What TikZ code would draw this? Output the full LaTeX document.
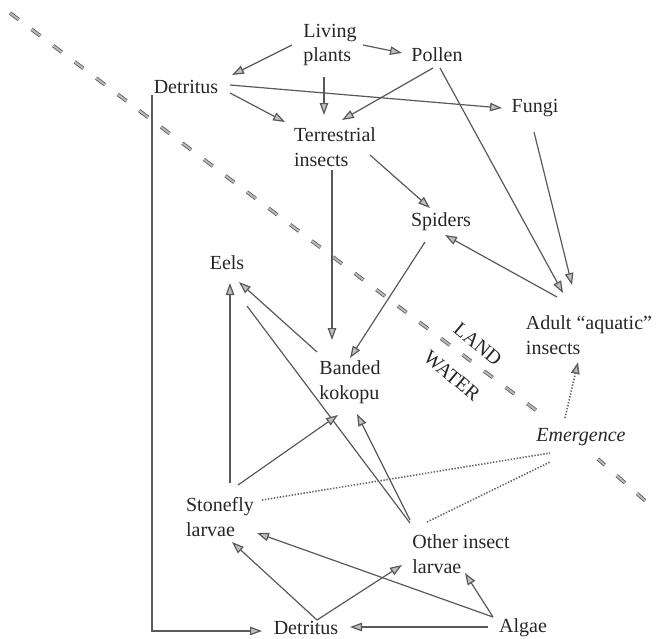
\documentclass[tikz,border=0pt]{standalone}
\usepackage{fontspec}
\setmainfont{Liberation Serif}
\newfontfamily\labelfont{Liberation Serif}
\usetikzlibrary{arrows.meta}
\begin{document}
\begin{tikzpicture}[x=1pt,y=-1pt,
  lbl/.style={inner sep=0pt, align=left, font=\labelfont\fontsize{20}{24.5}\selectfont, text=black!85},
  flow/.style={draw=black!65, line width=1.2pt, line join=miter,
    -{Triangle[length=12pt,width=8.5pt,fill=gray!50]}},
  link/.style={draw=black!65, line width=1.2pt},
  emerge/.style={draw=black!60, line width=1.6pt, dash pattern=on 1.4pt off 1.6pt},
  shore/.style={draw=black!65, line width=0.8pt, double=gray!55, double distance=2pt,
    dash pattern=on 11pt off 16pt}
]
\useasboundingbox (0,0) rectangle (659,638);

% land / water boundary
\draw[shore] (10,13) -- (541,414);
\draw[shore, dash phase=2pt] (598,459) -- (650,505);

% food-web compartments
\node[lbl] (lp)   at (330,45)  {Living\\plants};
\node[lbl] (pol)  at (437,55)  {Pollen};
\node[lbl] (detT) at (186,87)  {Detritus};
\node[lbl] (fun)  at (535,108) {Fungi};
\node[lbl] (ti)   at (335,147) {Terrestrial\\insects};
\node[lbl] (sp)   at (441,222) {Spiders};
\node[lbl] (eels) at (227,263) {Eels};
\node[lbl] (bk)   at (350,382) {Banded\\kokopu};
\node[lbl] (ad)   at (589,335) {Adult “aquatic”\\insects};
\node[lbl, font=\labelfont\fontsize{20}{24}\selectfont\itshape] (em) at (581,437) {Emergence};
\node[lbl, rotate=-40] (land)  at (478,344) {LAND};
\node[lbl, rotate=-40] (water) at (452,376) {WATER};
\node[lbl] (st)   at (220,517) {Stonefly\\larvae};
\node[lbl] (oil)  at (461,554) {Other insect\\larvae};
\node[lbl] (detB) at (306,628) {Detritus};
\node[lbl] (alg)  at (523,628) {Algae};

% terrestrial links
\draw[flow] ([shift={(-38,0)}]lp.center) -- ([shift={(46,-12)}]detT.center);
\draw[flow] ([shift={(33,0)}]lp.center) -- ([shift={(-35,-2)}]pol.center);
\draw[flow] ([shift={(-6,32)}]lp.center) -- ([shift={(-11,-32)}]ti.center);
\draw[flow] ([shift={(-4,13)}]pol.center) -- ([shift={(7,-27)}]ti.center);
\draw[flow] ([shift={(44,6)}]detT.center) -- ([shift={(-50,-25)}]ti.center);
\draw[flow] ([shift={(44,-2)}]detT.center) -- ([shift={(-33,0)}]fun.center);
\draw[flow] ([shift={(3,13)}]pol.center) -- ([shift={(-26,-42)}]ad.center);
\draw[flow] ([shift={(-1,24)}]fun.center) -- ([shift={(-17,-50)}]ad.center);
\draw[flow] ([shift={(35,8)}]ti.center) -- ([shift={(-11,-14)}]sp.center);
\draw[flow] ([shift={(-32,-38)}]ad.center) -- ([shift={(4,13)}]sp.center);
\draw[flow] ([shift={(-3,23)}]ti.center) -- ([shift={(-18,-42)}]bk.center);
\draw[flow] ([shift={(-16,20)}]sp.center) -- ([shift={(0,-24)}]bk.center);

% aquatic links
\draw[flow] ([shift={(-33,-30)}]bk.center) -- ([shift={(12,19)}]eels.center);
\draw[flow] ([shift={(10,-34)}]st.center) -- ([shift={(3,20)}]eels.center);
\draw[link] ([shift={(-51,-31)}]oil.center) -- ([shift={(20,43)}]eels.center);
\draw[flow] ([shift={(-51,-34)}]oil.center) -- ([shift={(7,32)}]bk.center);
\draw[flow] ([shift={(18,-32)}]st.center) -- ([shift={(-12,33)}]bk.center);
\draw[flow] ([shift={(-30,-11)}]alg.center) -- ([shift={(37,16)}]st.center);
\draw[flow] ([shift={(-30,-11)}]alg.center) -- ([shift={(4,19)}]oil.center);
\draw[flow] ([shift={(-35,-1)}]alg.center) -- ([shift={(44,-1)}]detB.center);
\draw[flow] ([shift={(11,-8)}]detB.center) -- ([shift={(12,25)}]st.center);
\draw[flow] ([shift={(11,-8)}]detB.center) -- ([shift={(-59,11)}]oil.center);

% detritus carried from land to water
\draw[flow] ([shift={(-34,8)}]detT.center) |- ([shift={(-44,3)}]detB.center);

% emergence
\draw[emerge] ([shift={(42,-17)}]st.center) -- ([shift={(-31,16)}]em.center);
\draw[emerge] ([shift={(-34,-32)}]oil.center) -- ([shift={(-31,25)}]em.center);
\draw[emerge, -{Triangle[length=12pt,width=8.5pt,fill=gray!50]}]
  ([shift={(-16,-19)}]em.center) -- ([shift={(-11,27)}]ad.center);
\end{tikzpicture}
\end{document}
